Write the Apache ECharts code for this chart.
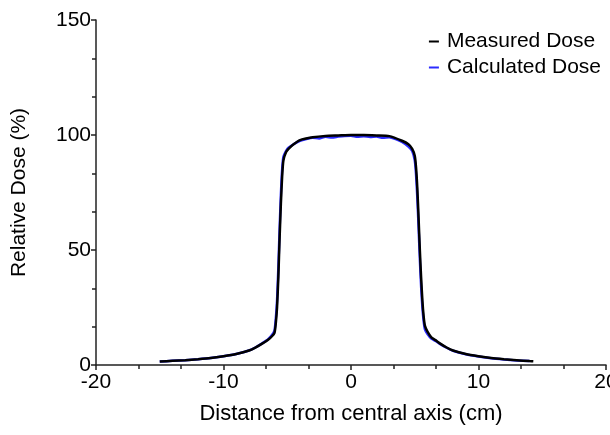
<!DOCTYPE html>
<html>
<head>
<meta charset="utf-8">
<script src="https://cdn.jsdelivr.net/npm/echarts@6/dist/echarts.min.js"></script>
<style>
  html, body { margin: 0; padding: 0; background: #fff; }
  #chart { width: 610px; height: 435px; }
</style>
</head>
<body>
<div id="chart"></div>
<script>
// distance from central axis (cm)
var measuredX = [-15, -14, -13, -12, -11, -10, -9, -8, -7.5, -7, -6.5, -6.2, -6.0, -5.9, -5.8, -5.7, -5.6, -5.5, -5.4, -5.3, -5.1, -4.9, -4.5, -4, -3, -2, -1, 0, 1, 2, 3, 4, 4.5, 4.8, 5.0, 5.1, 5.2, 5.3, 5.4, 5.5, 5.6, 5.7, 5.8, 6.0, 6.3, 6.7, 7, 7.5, 8, 9, 10, 11, 12, 13, 14, 14.3];
var measuredY = [1.5, 1.8, 2.1, 2.5, 3.0, 3.8, 4.8, 6.3, 7.6, 9.2, 11, 12.5, 14, 18, 25, 38, 55, 70, 82, 89, 92.5, 94, 96, 97.8, 99, 99.6, 99.8, 100, 100, 99.8, 99.5, 97.5, 96, 94, 91, 86, 77, 64, 50, 38, 28, 21, 17, 14.5, 12, 10.5, 9.3, 7.6, 6.3, 4.8, 3.8, 3.0, 2.5, 2.1, 1.7, 1.6];

var calcX = [-15, -14, -13, -12, -11, -10, -9, -8, -7.5, -7, -6.5, -6.2, -6.0, -5.9, -5.8, -5.7, -5.6, -5.5, -5.4, -5.3, -5.1, -4.9, -4.5, -4, -3.5, -3, -2.5, -2, -1.5, -1, -0.5, 0, 0.5, 1, 1.5, 2, 2.5, 3, 3.5, 4, 4.5, 4.8, 5.0, 5.1, 5.2, 5.3, 5.4, 5.5, 5.6, 5.7, 5.8, 6.0, 6.3, 6.7, 7, 7.5, 8, 9, 10, 11, 12, 13, 14];
var calcY = [1.5, 1.8, 2.1, 2.5, 3.0, 3.8, 4.8, 6.3, 7.6, 9.3, 11.2, 13, 15, 20, 28, 42, 59, 74, 85, 90.5, 93, 94.5, 96, 97.5, 98.3, 98.8, 98.5, 99.2, 98.9, 99.3, 99.6, 99.7, 99.2, 99.5, 99.1, 99.3, 98.8, 99, 98.2, 97, 95, 93, 89, 83, 73, 60, 46, 34, 25, 19, 15.5, 13.5, 11.5, 10.2, 9.1, 7.5, 6.2, 4.7, 3.7, 2.9, 2.4, 2.0, 1.7];

var xTicks = [-20, -10, 0, 10, 20];
var yTicks = [0, 50, 100, 150];

function pairs(xs, ys) {
  return xs.map(function (x, i) { return [x, ys[i]]; });
}

var chart = echarts.init(document.getElementById('chart'));
var axisColor = '#222';
var font = 'Liberation Sans, Arial, sans-serif';
var fs = 21;

chart.setOption({
  animation: false,
  grid: { left: 96, right: 4, top: 20, bottom: 70, outerBoundsMode: 'none', containLabel: false },
  legend: {
    orient: 'vertical',
    right: 4,
    top: 26,
    itemWidth: 10,
    itemHeight: 2,
    itemGap: 5,
    icon: 'rect',
    textStyle: { fontFamily: font, fontSize: fs, color: '#000', padding: [0, 0, 0, 3] },
    data: ['Measured Dose', 'Calculated Dose']
  },
  xAxis: {
    type: 'value',
    min: xTicks[0],
    max: xTicks[xTicks.length - 1],
    interval: 10,
    name: 'Distance from central axis (cm)',
    nameLocation: 'middle',
    nameGap: 38,
    nameTextStyle: { fontFamily: font, fontSize: 22, color: '#000' },
    axisLine: { onZero: false, lineStyle: { color: axisColor, width: 1.5 } },
    axisTick: { show: true, length: 5, lineStyle: { color: axisColor, width: 1.5 } },
    minorTick: { show: true, splitNumber: 3, length: 4, lineStyle: { color: axisColor, width: 1.5 } },
    axisLabel: { fontFamily: font, fontSize: fs, color: '#000', margin: 7 },
    splitLine: { show: false }
  },
  yAxis: {
    type: 'value',
    min: yTicks[0],
    max: yTicks[yTicks.length - 1],
    interval: 50,
    name: 'Relative Dose (%)',
    nameLocation: 'middle',
    nameGap: 66,
    nameTextStyle: { fontFamily: font, fontSize: fs, color: '#000' },
    axisLine: { show: true, onZero: false, lineStyle: { color: axisColor, width: 1.5 } },
    axisTick: { show: true, length: 5, lineStyle: { color: axisColor, width: 1.5 } },
    minorTick: { show: true, splitNumber: 3, length: 4, lineStyle: { color: axisColor, width: 1.5 } },
    axisLabel: { fontFamily: font, fontSize: fs, color: '#000', margin: 5 },
    splitLine: { show: false }
  },
  series: [
    {
      name: 'Measured Dose',
      type: 'line',
      z: 3,
      data: pairs(measuredX, measuredY),
      showSymbol: false,
      smooth: 0.2,
      itemStyle: { color: '#000' },
      lineStyle: { color: '#000', width: 2.5 }
    },
    {
      name: 'Calculated Dose',
      type: 'line',
      z: 2,
      data: pairs(calcX, calcY),
      showSymbol: false,
      smooth: 0.2,
      itemStyle: { color: '#2b2bff' },
      lineStyle: { color: '#2b2bff', width: 2.5 }
    }
  ]
});
</script>
</body>
</html>
